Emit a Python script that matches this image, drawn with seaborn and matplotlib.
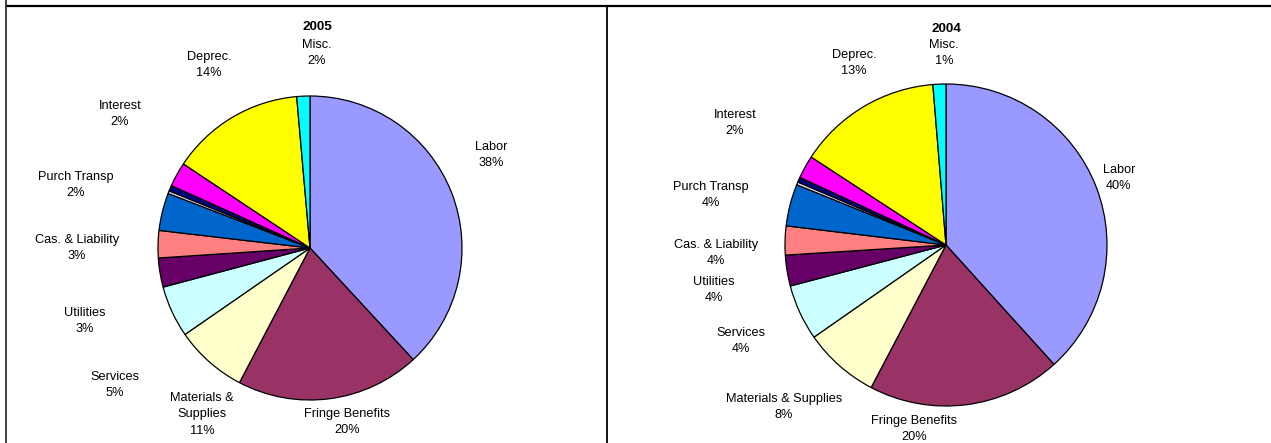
import matplotlib
matplotlib.use("Agg")
import matplotlib.pyplot as plt
from matplotlib.lines import Line2D
import seaborn as sns

# ---------------- data ----------------
categories = ["Labor", "Fringe Benefits", "Materials & Supplies", "Services",
              "Utilities", "Cas. & Liability", "Purch Transp", "Other A",
              "Other B", "Interest", "Deprec.", "Misc."]
values_2005 = [38.2, 19.6, 7.7, 5.5, 3.1, 2.9, 4.0, 0.3, 0.6, 2.6, 14.3, 1.4]
values_2004 = [38.3, 19.4, 7.6, 5.6, 3.1, 2.9, 4.2, 0.3, 0.5, 2.3, 14.5, 1.3]

label_names_2005 = ["Labor", "Fringe Benefits", "Materials &\nSupplies", "Services",
                    "Utilities", "Cas. & Liability", "Purch Transp", "Interest",
                    "Deprec.", "Misc."]
label_pcts_2005 = ["38%", "20%", "11%", "5%", "3%", "3%", "2%", "2%", "14%", "2%"]
label_names_2004 = ["Labor", "Fringe Benefits", "Materials & Supplies", "Services",
                    "Utilities", "Cas. & Liability", "Purch Transp", "Interest",
                    "Deprec.", "Misc."]
label_pcts_2004 = ["40%", "20%", "8%", "4%", "4%", "4%", "4%", "2%", "13%", "1%"]

slice_colors = ["#9999FF", "#993366", "#FFFFCC", "#CCFFFF", "#660066", "#FF8080",
                "#0066CC", "#D8D8F0", "#000080", "#FF00FF", "#FFFF00", "#00FFFF"]

# ---------------- layout (pixels) ----------------
W, H = 1271, 443
sns.set_theme(style="white")
plt.rcParams["font.family"] = ["Liberation Sans", "DejaVu Sans"]

fig = plt.figure(figsize=(W / 100, H / 100), dpi=100)
fig.patch.set_facecolor("white")

# label anchor positions: (x, y of first line) in pixels
pos_2005 = [(491, 147), (347, 414), (202, 398), (115, 377), (85, 313),
            (77, 240), (76, 177), (120, 106), (209, 57), (317, 45)]
pos_2004 = [(1119, 170), (914, 421), (784, 399), (741, 333), (714, 282),
            (716, 245), (711, 187), (735, 115), (854, 55), (944, 45)]

LINE = 16.3  # pixel spacing between text lines
FS = 9.2


def draw_pie(values, cx, cy, r, title, tpos, names, pcts, positions):
    ax = fig.add_axes([(cx - r) / W, (H - cy - r) / H, 2 * r / W, 2 * r / H])
    palette = sns.color_palette(slice_colors)
    ax.pie(values, colors=palette, startangle=90, counterclock=False, radius=1,
           wedgeprops=dict(edgecolor="black", linewidth=0.9))
    ax.set_xlim(-1, 1)
    ax.set_ylim(-1, 1)
    ax.set_axis_off()
    fig.text(tpos[0] / W, 1 - tpos[1] / H, title, ha="center", va="center",
             fontsize=FS + 0.5, fontweight="bold", color="black")
    for name, pct, (x, y) in zip(names, pcts, positions):
        lines = name.split("\n") + [pct]
        for i, ln in enumerate(lines):
            fig.text(x / W, 1 - (y + i * LINE) / H, ln, ha="center", va="center",
                     fontsize=FS, color="black")


draw_pie(values_2005, 310, 248, 152, "2005", (317, 27),
         label_names_2005, label_pcts_2005, pos_2005)
draw_pie(values_2004, 946, 245, 161, "2004", (946, 29),
         label_names_2004, label_pcts_2004, pos_2004)

# borders
fig.add_artist(Line2D([6 / W, 1], [1 - 5.5 / H, 1 - 5.5 / H], color="black", lw=1.6))
fig.add_artist(Line2D([5.5 / W, 5.5 / W], [0, 1], color="#333333", lw=1.3))
fig.add_artist(Line2D([607 / W, 607 / W], [0, 1 - 5.5 / H], color="black", lw=1.3))

fig.savefig("out.png", dpi=100, facecolor="white")
